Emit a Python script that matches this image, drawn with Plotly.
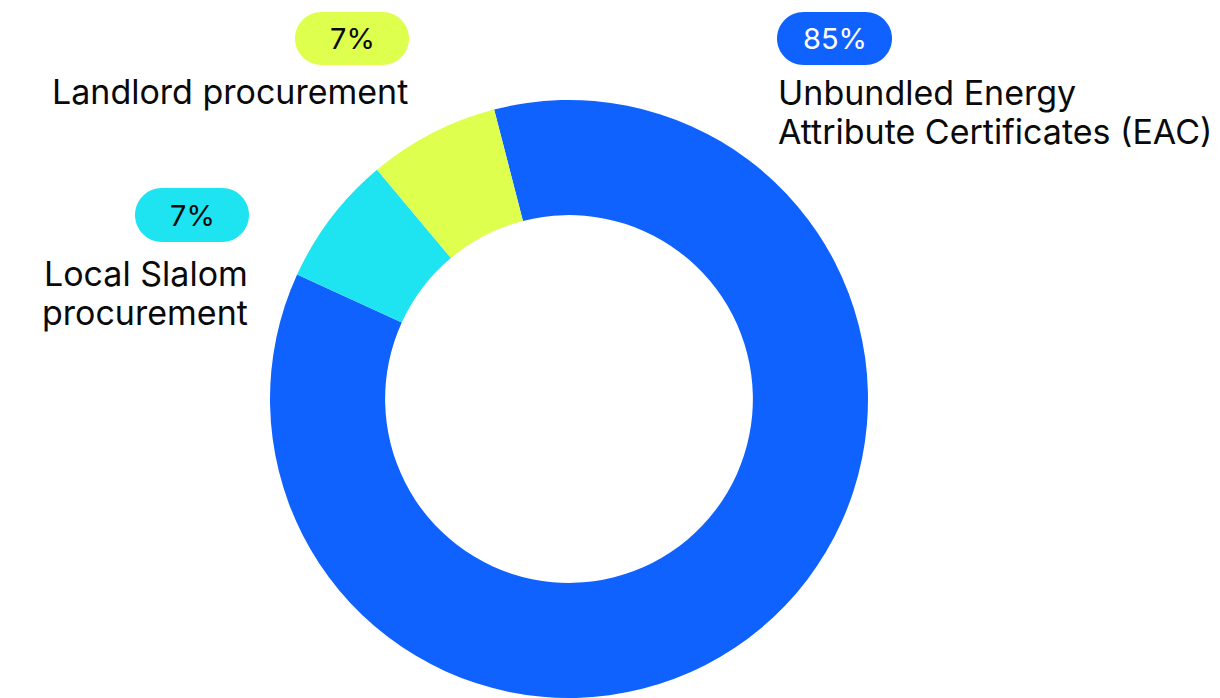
import plotly.graph_objects as go

categories = ["Unbundled Energy Attribute Certificates (EAC)", "Local Slalom procurement", "Landlord procurement"]
values = [85, 7, 7]
pct_labels = ["85%", "7%", "7%"]
colors = ["#1062FE", "#1EE3F0", "#DEFF4D"]
name_lines = [["Unbundled Energy", "Attribute Certificates (EAC)"], ["Local Slalom", "procurement"], ["Landlord procurement"]]

W, H = 1220, 698

fig = go.Figure()
fig.add_trace(go.Pie(
    labels=categories, values=values, sort=False, direction="clockwise",
    rotation=-14.5, hole=0.615, marker=dict(colors=colors, line=dict(width=0)),
    textinfo="none", hoverinfo="label+percent", showlegend=False,
    domain=dict(x=[270 / W, 868 / W], y=[0.0, 1 - 100 / H]),
))

# invisible pixel-space axes for pills and labels
fig.add_trace(go.Scatter(x=[0, W], y=[0, H], mode="markers", marker=dict(opacity=0), hoverinfo="skip", showlegend=False))


def pill(x0, y0, x1, y1, color):
    r = (y1 - y0) / 2
    k = 0.5523 * r
    p = (f"M {x0 + r},{y0} L {x1 - r},{y0} "
         f"C {x1 - r + k},{y0} {x1},{y0 + r - k} {x1},{y0 + r} "
         f"C {x1},{y0 + r + k} {x1 - r + k},{y1} {x1 - r},{y1} "
         f"L {x0 + r},{y1} "
         f"C {x0 + r - k},{y1} {x0},{y0 + r + k} {x0},{y0 + r} "
         f"C {x0},{y0 + r - k} {x0 + r - k},{y0} {x0 + r},{y0} Z")
    return dict(type="path", path=p, xref="x", yref="y", fillcolor=color, line=dict(width=0), layer="above")


FONT = "Inter"
TXT = "#0a0a0a"
NAME_SIZE = 34
pill_boxes = [(777, 12, 892, 65), (135, 188, 249, 242), (295, 12, 409, 65)]
shapes = []
annotations = []
for (x0, y0, x1, y1), c, t in zip(pill_boxes, colors, pct_labels):
    shapes.append(pill(x0, y0, x1, y1, c))
    annotations.append(dict(x=(x0 + x1) / 2, y=(y0 + y1) / 2, xref="x", yref="y", text=t, showarrow=False,
                            xanchor="center", yanchor="middle", borderpad=0,
                            font=dict(family=FONT, size=29, color="white" if c == colors[0] else TXT)))

# (x anchor, first baseline, alignment)
name_pos = [(777, 105, "left"), (249, 286, "right"), (409, 104, "right")]
LINE_GAP = 38.5
for lines, (x, base, a) in zip(name_lines, name_pos):
    for i, t in enumerate(lines):
        annotations.append(dict(x=x, y=base + i * LINE_GAP - 0.363 * NAME_SIZE, xref="x", yref="y", text=t,
                                showarrow=False, xanchor=a, yanchor="middle", align=a, borderpad=0,
                                font=dict(family=FONT, size=NAME_SIZE, color=TXT)))

fig.update_layout(
    width=W, height=H, margin=dict(l=0, r=0, t=0, b=0),
    paper_bgcolor="white", plot_bgcolor="rgba(0,0,0,0)",
    xaxis=dict(range=[0, W], visible=False, fixedrange=True),
    yaxis=dict(range=[H, 0], visible=False, fixedrange=True),
    shapes=shapes, annotations=annotations,
)
fig.write_html("out.html")
